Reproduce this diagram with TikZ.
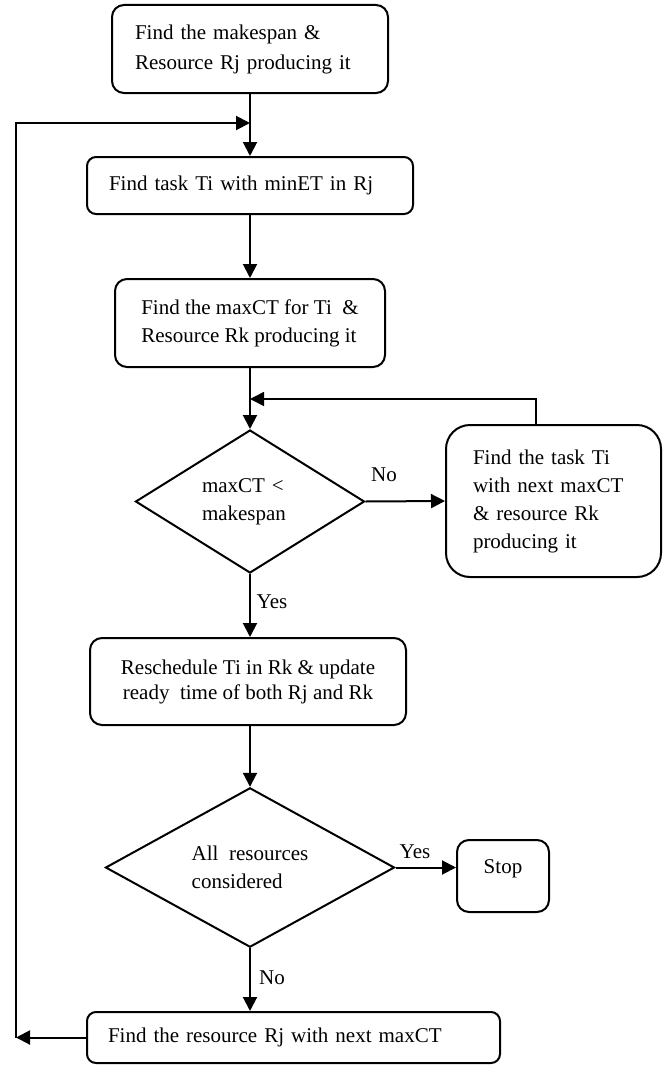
\documentclass[tikz,border=0pt]{standalone}
\usepackage{fontspec}
\setmainfont{Liberation Serif}
\usetikzlibrary{shapes.geometric,arrows.meta,calc}
\begin{document}
\begin{tikzpicture}[x=1pt,y=-1pt,
  every node/.style={font=\fontsize{21}{28}\selectfont},
  box/.style={draw,line width=2pt,rounded corners=12pt,align=left,inner sep=0pt},
  dia/.style={draw,line width=2pt,diamond,align=left,inner sep=0pt},
  arr/.style={line width=2pt,-{Triangle[length=14pt,width=14pt]}},
  lbl/.style={inner sep=0pt}]
\useasboundingbox (0,0) rectangle (667,1065);
% nodes
\node[box,minimum width=276pt,minimum height=88pt,text width=230pt,inner xsep=23pt,font=\fontsize{21}{30}\selectfont] (b1) at (250,49) {Find the makespan \&\\Resource Rj producing it};
\node[box,minimum width=326pt,minimum height=57pt,text width=282pt,inner xsep=22pt,rounded corners=9pt] (b2) at (250,185.5) {Find task Ti with minET in Rj};
\node[box,minimum width=270pt,minimum height=88pt] (b3) at (250,323) {Find the maxCT for Ti\ \ \&\\Resource Rk producing it};
\node[dia,minimum width=229pt,minimum height=143pt,text width=96pt] (d1) at (250,501.5) {maxCT <\\makespan};
\node[box,minimum width=215pt,minimum height=152pt,text width=161pt,inner xsep=27pt,rounded corners=24pt] (rb) at (553.5,501) {Find the task Ti\\with next maxCT\\\& resource Rk\\producing it};
\node[box,minimum width=316pt,minimum height=87pt,align=center,font=\fontsize{21}{25}\selectfont] (b4) at (248,681.5) {Reschedule Ti in Rk \& update\\ready\ \ time of both Rj and Rk};
\node[dia,minimum width=289pt,minimum height=159pt] (d2) at (250,867.5) {All\ \ resources\\considered};
\node[box,minimum width=92pt,minimum height=72pt,text depth=18pt] (stop) at (503,876) {Stop};
\node[box,minimum width=413pt,minimum height=51pt,text width=371pt,inner xsep=21pt,rounded corners=9pt] (b5) at (293.5,1037.5) {Find the resource Rj with next maxCT};
% labels
\node[lbl] (no1) at (384,475) {No};
\node[lbl] (yes1) at (272,602) {Yes};
\node[lbl] (yes2) at (415,852) {Yes};
\node[lbl] (no2) at (272,978) {No};
% helper coordinates
\coordinate (j1) at (250,123);
\coordinate (cL) at (16,1037.5);
\coordinate (rbt) at ($(rb.north west)+(91,0)$);
\coordinate (j2) at (250,399);
% connectors
\draw[arr] (b1.south) -- (b2.north);
\draw[arr] (cL) |- (j1);
\draw[arr] (b5.west) -- (cL);
\draw[arr] (b2.south) -- (b3.north);
\draw[arr] (b3.south) -- (d1.north);
\draw[arr,line width=1.6pt] (rbt) |- (j2);
\draw[arr] (d1.east) -- (rb.west);
\draw[arr] (d1.south) -- (d1.south |- b4.north);
\draw[arr] (b4.south -| d2.north) -- (d2.north);
\draw[arr] (d2.east) -- (d2.east -| stop.west);
\draw[arr] (d2.south) -- (d2.south |- b5.north);
\end{tikzpicture}
\end{document}
